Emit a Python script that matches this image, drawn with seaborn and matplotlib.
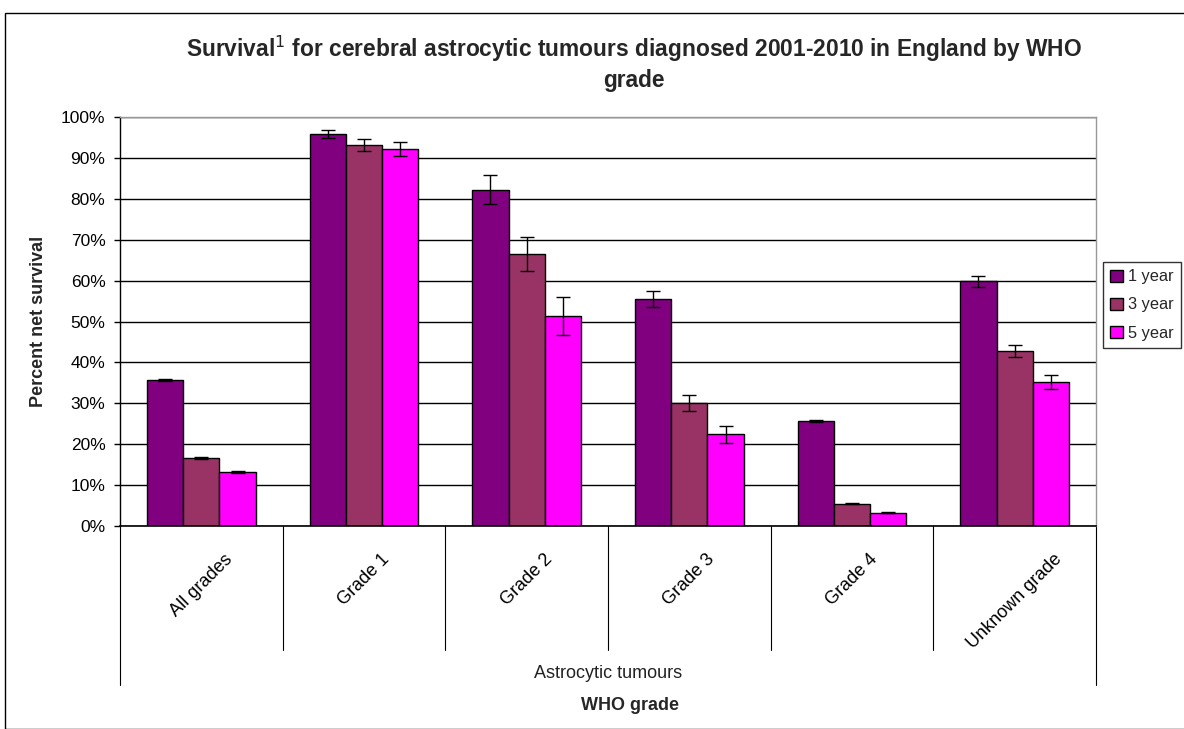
import matplotlib
matplotlib.use("Agg")
import matplotlib.pyplot as plt
import seaborn as sns
import pandas as pd
import numpy as np
from matplotlib.lines import Line2D
from matplotlib.patches import Rectangle
import matplotlib.transforms as mtransforms

categories = ["All grades", "Grade 1", "Grade 2", "Grade 3", "Grade 4", "Unknown grade"]
series = ["1 year", "3 year", "5 year"]
surv_1yr = [35.7, 95.8, 82.2, 55.5, 25.7, 59.8]
surv_3yr = [16.6, 93.2, 66.5, 30.1, 5.5, 42.7]
surv_5yr = [13.2, 92.1, 51.3, 22.4, 3.3, 35.2]
err_1yr = [0.3, 1.0, 3.5, 2.0, 0.2, 1.4]
err_3yr = [0.3, 1.5, 4.2, 1.9, 0.2, 1.5]
err_5yr = [0.3, 1.7, 4.6, 2.0, 0.1, 1.6]
colors = ["#800080", "#993366", "#FF00FF"]

rows = []
for s, vals, errs in zip(series, [surv_1yr, surv_3yr, surv_5yr], [err_1yr, err_3yr, err_5yr]):
    for c, v, e in zip(categories, vals, errs):
        rows.append({"grade": c, "period": s, "value": v, "err": e})
df = pd.DataFrame(rows)

sns.set_style("white")
plt.rcParams["font.family"] = ["Liberation Sans", "DejaVu Sans"]

fig = plt.figure(figsize=(11.84, 7.29), dpi=100)
ax = fig.add_axes([120/1184, 1-526/729, 976/1184, 409/729])

sns.barplot(data=df, x="grade", y="value", hue="period", order=categories,
            hue_order=series, palette=colors, saturation=1, width=0.67, ax=ax,
            edgecolor="black", linewidth=1.0, legend=True, errorbar=None)

# error bars through bar patches
for s_i, s in enumerate(series):
    cont = ax.containers[s_i]
    sub = df[df.period == s].set_index("grade").loc[categories]
    xs = [p.get_x() + p.get_width()/2 for p in cont.patches]
    ax.errorbar(xs, sub["value"].values, yerr=sub["err"].values, fmt="none",
                ecolor="black", elinewidth=1, capsize=5, capthick=1, zorder=5)

ax.set_ylim(0, 100)
ax.set_xlim(-0.5, len(categories) - 0.5)
ax.set_yticks(np.arange(0, 101, 10))
ax.set_yticklabels([f"{t}%" for t in range(0, 101, 10)], fontsize=12.5)
ax.yaxis.grid(True, color="black", linewidth=1)
ax.set_axisbelow(True)
ax.tick_params(axis="y", left=True, length=4.5, width=1, color="black", pad=6, labelcolor="black")
ax.set_xticks(range(len(categories)))
ax.set_xticklabels(categories, rotation=45, ha="center", va="top", rotation_mode="default", fontsize=13)
ax.tick_params(axis="x", length=0, pad=18, labelcolor="black")
ax.set_xlabel("")
ax.set_ylabel("Percent net survival", fontsize=13, fontweight="bold", labelpad=10)

for sp in ["top", "right"]:
    ax.spines[sp].set_color("#999999")
    ax.spines[sp].set_linewidth(1)
ax.spines["left"].set_color("black")
ax.spines["left"].set_linewidth(1)
ax.spines["bottom"].set_color("black")
ax.spines["bottom"].set_linewidth(1.2)

# category divider lines below axis
trans = mtransforms.blended_transform_factory(ax.transData, ax.transAxes)
h_in = 124 / 409
h_out = 159 / 409
for i in range(len(categories) + 1):
    xpos = i - 0.5
    hh = h_out if i in (0, len(categories)) else h_in
    ax.add_line(Line2D([xpos, xpos], [0, -hh], transform=trans, color="black",
                       linewidth=0.8, clip_on=False))

fig.text(608/1184, 1-673/729, "Astrocytic tumours", ha="center", va="center", fontsize=13, color="#222222")
fig.text(630/1184, 1-705/729, "WHO grade", ha="center", va="center", fontsize=13, fontweight="bold")

fig.text(634/1184, 1-63/729, "Survival$^{\\mathrm{1}}$ for cerebral astrocytic tumours diagnosed 2001-2010 in England by WHO\ngrade",
         ha="center", va="center", fontsize=16.4, fontweight="bold", linespacing=1.3)

leg = ax.legend(loc="upper left", bbox_to_anchor=(1103/1184, 1-262/729), bbox_transform=fig.transFigure,
                fontsize=11.8, frameon=True, fancybox=False, edgecolor="black",
                handlelength=0.75, handleheight=0.75, handletextpad=0.3, borderpad=0.45,
                labelspacing=0.8, borderaxespad=0)
leg.get_frame().set_linewidth(1)

# outer figure border
fig.add_artist(Rectangle((5/1184, 0), 1.2, 1-13/729, transform=fig.transFigure,
                         fill=False, edgecolor="black", linewidth=1))

fig.savefig("out.png", dpi=100)
